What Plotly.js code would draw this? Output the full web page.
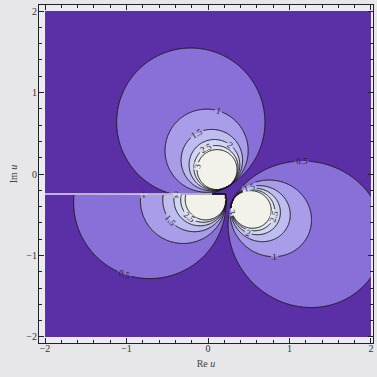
<!DOCTYPE html>
<html>
<head>
<meta charset="utf-8">
<script src="https://cdn.plot.ly/plotly-3.0.1.min.js"></script>
<style>
  html, body { margin: 0; padding: 0; background: #e7e7e9; }
  #chart { width: 377px; height: 377px; }
</style>
</head>
<body>
<div id="chart"></div>
<script>
// ---- values ----
// three lobes of the contour field: tangent point, direction,
// lobe length at level 0.5, level 1 and level 3, and elongation of the lobe shape
const lobeNames      = ['top', 'left', 'right'];
const lobeTipX       = [0.23, 0.22, 0.30];
const lobeTipY       = [-0.16, -0.30, -0.33];
const lobeAngleDeg   = [119, 183, -24];
const lobeLenLevelHalf = [1.82, 1.87, 1.95];
const lobeLenLevel1  = [1.02, 1.05, 1.02];
const lobeLenLevel3  = [0.49, 0.50, 0.50];
const lobeElongation = [1.0, 1.0, 1.3];
// branch cut (horizontal) that clips the left lobe
const branchCutY = -0.245;
const branchCutEndX = 0.05;
// contour levels and band colours (below 0.5 ... above 3)
const levelStart = 0.5, levelEnd = 3, levelStep = 0.5;
const bandColors = ['#5b2fa6', '#8870d8', '#a99ce8', '#bfbcf0', '#d3d5f2', '#e3e7ef', '#f3f2ea'];
// axes
const xRange = [-2, 2], yRange = [-2, 2];
const tickVals = [-2, -1, 0, 1, 2];
const tickText = ['\u22122', '\u22121', '0', '1', '2'];
const xTitle = 'Re <i>u</i>', yTitle = 'Im <i>u</i>';

// ---- fit each lobe: length(k) = a + b * k^(-g) through the three read lengths ----
function fitLobe(Lh, L1, L3) {
  const target = (Lh - L1) / (L1 - L3);
  let lo = 0.3, hi = 3;
  for (let it = 0; it < 60; it++) {
    const g = (lo + hi) / 2;
    const r = (Math.pow(2, g) - 1) / (1 - Math.pow(3, -g));
    if (r < target) lo = g; else hi = g;
  }
  const g = (lo + hi) / 2;
  const b = (Lh - L1) / (Math.pow(2, g) - 1);
  return { g, b, a: L1 - b };
}
const lobes = lobeNames.map((n, i) => {
  const f = fitLobe(lobeLenLevelHalf[i], lobeLenLevel1[i], lobeLenLevel3[i]);
  const t = lobeAngleDeg[i] * Math.PI / 180;
  return { name: n, px: lobeTipX[i], py: lobeTipY[i], c: Math.cos(t), s: Math.sin(t),
           a: f.a, b: f.b, ig: 1 / f.g, q: lobeElongation[i] };
});

// ---- build the field on a grid ----
const step = 0.01;
const xs = [], ys = [];
for (let v = xRange[0]; v <= xRange[1] + 1e-9; v += step) xs.push(+v.toFixed(4));
for (let v = yRange[0]; v <= yRange[1] + 1e-9; v += step) ys.push(+v.toFixed(4));

const zCap = 4;
function lobeValue(L, x, y) {
  const wx = x - L.px, wy = y - L.py;
  const wd = wx * L.c + wy * L.s;
  if (wd <= 0) return 0;
  const r = Math.hypot(wx, wy);
  if (r < 1e-9) return zCap;
  const cphi = wd / r;
  const len = L.q === 1 ? r / cphi : r / Math.pow(cphi, L.q);
  if (len <= L.a + 1e-6) return zCap;
  return Math.min(zCap, Math.pow(L.b / (len - L.a), L.ig));
}
const z = ys.map(y => xs.map(x => {
  let m = 0;
  lobes.forEach(L => {
    if (L.name === 'left' && y > branchCutY) return;
    m = Math.max(m, lobeValue(L, x, y));
  });
  return m;
}));

const nBands = bandColors.length;
const colorscale = bandColors.map((c, i) => [i / (nBands - 1), c]);

const trace = {
  type: 'contour',
  x: xs, y: ys, z: z,
  zmin: 0, zmax: zCap,
  colorscale: colorscale,
  showscale: false,
  hoverinfo: 'skip',
  contours: {
    start: levelStart, end: levelEnd, size: levelStep,
    coloring: 'fill',
    showlabels: true,
    labelfont: { family: 'Liberation Serif', size: 9, color: '#222' }
  },
  line: { color: '#1a1a1a', width: 1, smoothing: 0.6 }
};

const axisCommon = {
  showgrid: false, zeroline: false,
  showline: true, linecolor: '#222', linewidth: 1, mirror: 'ticks',
  ticks: 'inside', ticklen: 5, tickwidth: 1, tickcolor: '#222',
  tickvals: tickVals, ticktext: tickText,
  tickfont: { family: 'Liberation Serif', size: 10, color: '#333' },
  minor: { dtick: 0.2, tick0: 0, ticks: 'inside', ticklen: 3, tickcolor: '#222' }
};

const layout = {
  width: 377, height: 377,
  margin: { l: 39, r: 4, t: 5, b: 34 },
  paper_bgcolor: '#e7e7e9',
  plot_bgcolor: '#ecebf4',
  showlegend: false,
  xaxis: Object.assign({}, axisCommon, {
    range: [-2.074, 2.025],
    ticklabelstandoff: -4,
    title: { text: xTitle, font: { family: 'Liberation Serif', size: 10, color: '#444' }, standoff: 6 }
  }),
  yaxis: Object.assign({}, axisCommon, {
    range: [-2.074, 2.074],
    ticklabelstandoff: -1,
    title: { text: yTitle, font: { family: 'Liberation Serif', size: 10, color: '#444' }, standoff: 6 }
  }),
  shapes: [{
    type: 'line', xref: 'x', yref: 'y',
    x0: xRange[0], x1: branchCutEndX, y0: branchCutY, y1: branchCutY,
    line: { color: 'rgba(236,234,246,0.95)', width: 1.6 }
  }]
};

Plotly.newPlot('chart', [trace], layout, { displayModeBar: false, staticPlot: true });
</script>
</body>
</html>
